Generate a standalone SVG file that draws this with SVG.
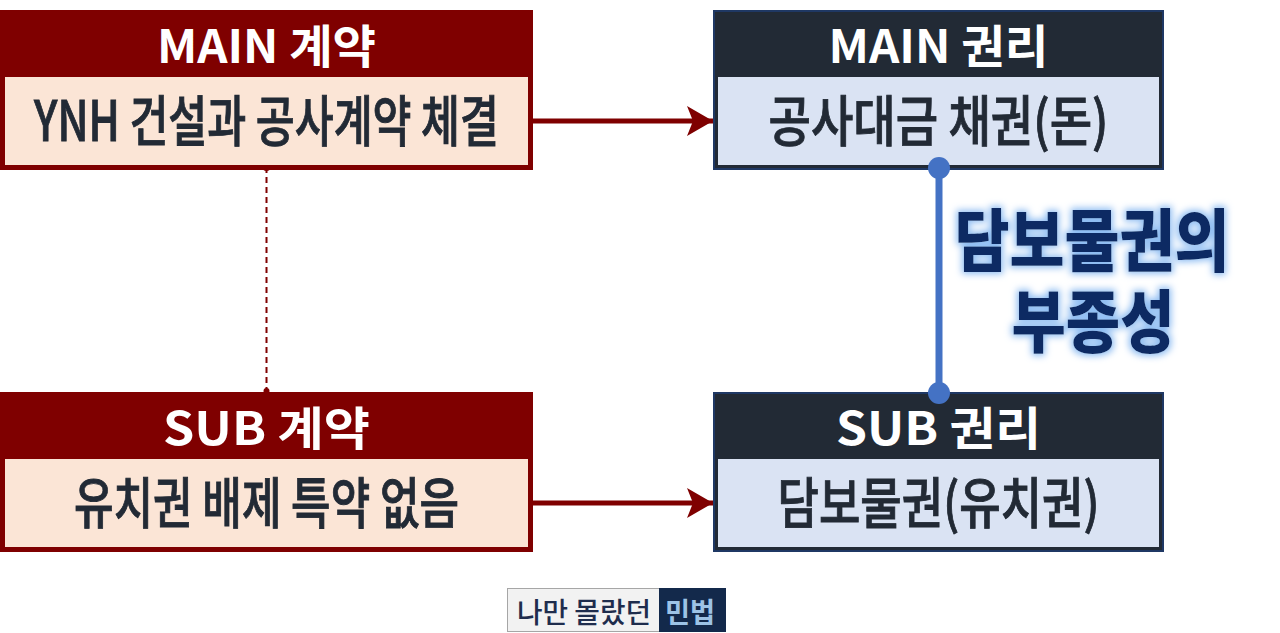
<svg xmlns="http://www.w3.org/2000/svg" width="1280" height="633" viewBox="0 0 1280 633">
<defs>
<style>
.txt{font-family:"Noto Sans CJK KR","Noto Sans",sans-serif;text-anchor:middle;dominant-baseline:central}
.hdr{font-size:46px;font-weight:700;fill:#ffffff}
.body{font-size:55px;font-weight:500;fill:#222a35;stroke:#222a35;stroke-width:0.9px}
.redO{fill:#7f0000}
.redI{fill:#fbe5d6}
.navO{fill:#222a35;stroke:#1f3864;stroke-width:2}
.navI{fill:#dae3f3}
.lbl{font-family:"Noto Sans CJK KR",sans-serif;font-weight:900;fill:#0c2a63;text-anchor:middle;dominant-baseline:central;font-size:58px}
</style>
<marker id="arr" markerUnits="userSpaceOnUse" markerWidth="30" markerHeight="32" refX="28" refY="16" orient="auto">
<path d="M2,1 L28,16 L2,31 L8,16 Z" fill="#7f0000"/>
</marker>
<filter id="glow" x="-20%" y="-40%" width="140%" height="180%">
<feMorphology in="SourceAlpha" operator="dilate" radius="2" result="d"/>
<feGaussianBlur in="d" stdDeviation="3.5" result="b"/>
<feFlood flood-color="#8fbdf2"/>
<feComposite in2="b" operator="in" result="g"/>
<feMerge><feMergeNode in="g"/><feMergeNode in="SourceGraphic"/></feMerge>
</filter>
</defs>
<rect width="1280" height="633" fill="#ffffff"/>

<g id="connectors">
<line x1="533" y1="121" x2="713" y2="121" stroke="#7f0000" stroke-width="5" marker-end="url(#arr)"/>
<line x1="533" y1="503" x2="713" y2="503" stroke="#7f0000" stroke-width="5" marker-end="url(#arr)"/>
<line x1="266.5" y1="167" x2="266.5" y2="391" stroke="#7f0000" stroke-width="2" stroke-dasharray="6,4"/>
<circle cx="266.5" cy="167" r="4" fill="#7f0000"/>
<circle cx="266.5" cy="391" r="3" fill="#7f0000"/>
</g>

<g id="main-contract">
<rect class="redO" x="0" y="10" width="533" height="160"/>
<rect class="redI" x="5" y="77" width="523" height="88"/>
<text class="txt hdr" x="266.5" y="43" textLength="219" lengthAdjust="spacingAndGlyphs">MAIN 계약</text>
<text class="txt body" x="266.5" y="117" textLength="465" lengthAdjust="spacingAndGlyphs">YNH 건설과 공사계약 체결</text>
</g>

<g id="main-right">
<rect class="navO" x="714" y="11" width="449" height="158"/>
<rect class="navI" x="718" y="77" width="441" height="88"/>
<text class="txt hdr" x="938.5" y="43" textLength="220" lengthAdjust="spacingAndGlyphs">MAIN 권리</text>
<text class="txt body" x="938.5" y="117" textLength="340" lengthAdjust="spacingAndGlyphs">공사대금 채권(돈)</text>
</g>

<g id="sub-contract">
<rect class="redO" x="0" y="392" width="533" height="160"/>
<rect class="redI" x="5" y="459" width="523" height="88"/>
<text class="txt hdr" x="266.5" y="425" textLength="207" lengthAdjust="spacingAndGlyphs">SUB 계약</text>
<text class="txt body" x="266.5" y="499" textLength="385" lengthAdjust="spacingAndGlyphs">유치권 배제 특약 없음</text>
</g>

<g id="sub-right">
<rect class="navO" x="714" y="393" width="449" height="158"/>
<rect class="navI" x="718" y="459" width="441" height="88"/>
<text class="txt hdr" x="938.5" y="425" textLength="205" lengthAdjust="spacingAndGlyphs">SUB 권리</text>
<text class="txt body" x="938.5" y="499" textLength="322" lengthAdjust="spacingAndGlyphs">담보물권(유치권)</text>
</g>

<g id="accessory-link">
<line x1="939" y1="168" x2="939" y2="393" stroke="#4472c4" stroke-width="7"/>
<circle cx="939" cy="168" r="11" fill="#4472c4"/>
<circle cx="939" cy="393" r="11" fill="#4472c4"/>
</g>

<g id="accessory-label" filter="url(#glow)">
<text class="lbl" transform="translate(1092,236) scale(1,1.17)" x="0" y="0" textLength="275" lengthAdjust="spacingAndGlyphs">담보물권의</text>
<text class="lbl" transform="translate(1093,317) scale(1,1.17)" x="0" y="0" textLength="163" lengthAdjust="spacingAndGlyphs">부종성</text>
</g>

<g id="footer">
<rect x="507.5" y="588.5" width="152" height="43" fill="#f2f2f2" stroke="#a6a6a6" stroke-width="1"/>
<rect x="659" y="588" width="67" height="44" fill="#13294b"/>
<text x="584" y="611" font-family="'Noto Sans CJK KR',sans-serif" font-size="28" font-weight="500" fill="#1f2d4d" text-anchor="middle" dominant-baseline="central" textLength="134" lengthAdjust="spacingAndGlyphs">나만 몰랐던</text>
<text x="690" y="611" font-family="'Noto Sans CJK KR',sans-serif" font-size="28" font-weight="700" fill="#9dc3e6" text-anchor="middle" dominant-baseline="central" textLength="50" lengthAdjust="spacingAndGlyphs">민법</text>
</g>
</svg>
